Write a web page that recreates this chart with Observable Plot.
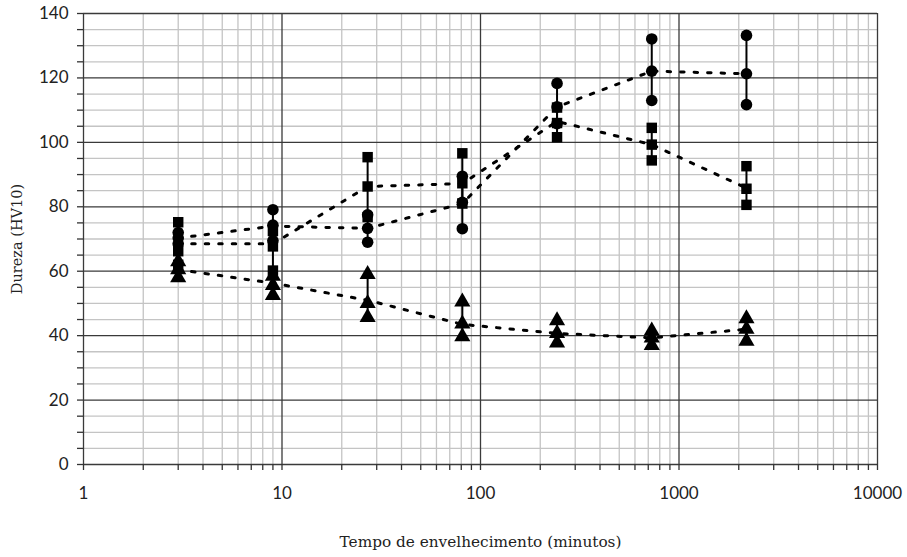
<!DOCTYPE html>
<html>
<head>
<meta charset="utf-8">
<script src="https://cdn.jsdelivr.net/npm/d3@7"></script>
<script src="https://cdn.jsdelivr.net/npm/@observablehq/plot@0.6"></script>
<style>
  html, body { margin: 0; padding: 0; background: #fff; }
</style>
</head>
<body>
<div id="chart"></div>
<script>
// Aging time (minutes)
const times = [3, 9, 27, 81, 243, 729, 2187];

// Series drawn with circles
const circleHi   = [72.0, 79.1, 77.5, 89.5, 118.3, 132.1, 133.2];
const circleMid  = [70.3, 74.3, 73.3, 81.4, 111.0, 122.1, 121.3];
const circleLo   = [68.5, 69.5, 69.0, 73.2, 105.8, 113.0, 111.7];
const circleMean = [70.3, 74.0, 73.3, 81.0, 111.0, 122.1, 121.3];

// Series drawn with squares
const squareHi   = [75.2, 72.5, 95.4, 96.6, 110.8, 104.5, 92.6];
const squareMid  = [66.2, 67.7, 86.3, 87.3, 106.0, 99.3, 85.6];
const squareLo   = [62.0, 60.2, 76.8, 81.0, 101.6, 94.4, 80.6];
const squareMean = [68.5, 68.5, 86.3, 87.2, 106.5, 99.3, 85.8];

// Series drawn with triangles
const triangleHi   = [63.0, 58.5, 59.0, 50.5, 44.7, 41.5, 45.3];
const triangleMid  = [60.5, 55.6, 50.0, 43.7, 40.7, 39.3, 42.0];
const triangleLo   = [58.0, 52.5, 45.7, 39.7, 37.8, 37.0, 38.3];
const triangleMean = [60.5, 56.3, 51.0, 43.5, 40.7, 39.3, 42.0];

// Axis ticks
const decades = [1, 10, 100, 1000, 10000];
const xTickLabels = ["1", "10", "100", "1000", "10000"];
const yLabels = [0, 20, 40, 60, 80, 100, 120, 140];

const xAll = [];
for (let p = 0; p < 4; p++) for (let k = 1; k < 10; k++) xAll.push(k * Math.pow(10, p));
xAll.push(10000);
const xMinor = xAll.filter(v => !decades.includes(v));
const yAll = d3.range(0, 141, 5);
const yMinor = yAll.filter(v => v % 20 !== 0);

const defs = [
  {name: "square", hi: squareHi, mid: squareMid, lo: squareLo, mean: squareMean},
  {name: "circle", hi: circleHi, mid: circleMid, lo: circleLo, mean: circleMean},
  {name: "triangle", hi: triangleHi, mid: triangleMid, lo: triangleLo, mean: triangleMean}
];
const rows = defs.flatMap(s => times.map((t, i) => ({
  series: s.name, t, hi: s.hi[i], mid: s.mid[i], lo: s.lo[i], mean: s.mean[i]
})));

const dotMarks = [];
for (const s of defs) {
  const data = rows.filter(r => r.series === s.name);
  const r = s.name === "triangle" ? 6 : s.name === "square" ? 5.9 : 5.8;
  for (const key of ["lo", "hi", "mid"]) {
    dotMarks.push(Plot.dot(data, {x: "t", y: key, symbol: s.name, fill: "#000", stroke: "none", r}));
  }
}

const chart = Plot.plot({
  width: 907,
  height: 557,
  marginLeft: 83,
  marginRight: 30,
  marginTop: 13,
  marginBottom: 93,
  style: {fontFamily: "Lato", fontSize: "17px", color: "#222", background: "#fff"},
  x: {type: "log", domain: [1, 10000]},
  y: {domain: [0, 140]},
  marks: [
    Plot.ruleX(xMinor, {stroke: "#c4c4c4", strokeWidth: 1.3}),
    Plot.ruleY(yMinor, {stroke: "#c4c4c4", strokeWidth: 1.3}),
    Plot.ruleX(decades, {stroke: "#3a3a3a", strokeWidth: 1.3}),
    Plot.ruleY(yLabels, {stroke: "#3a3a3a", strokeWidth: 1.3}),
    Plot.axisX({
      ticks: xAll,
      tickFormat: d => { const i = decades.findIndex(v => Math.abs(v - d) < 1e-9); return i >= 0 ? xTickLabels[i] : ""; },
      tickSize: 6, tickPadding: 16, label: null, stroke: "#333", strokeWidth: 1.3
    }),
    Plot.axisY({
      ticks: yAll,
      tickFormat: d => d % 20 === 0 ? String(d) : "",
      tickSize: 6, tickPadding: 9, label: null, stroke: "#333", strokeWidth: 1.3
    }),
    Plot.line(rows, {x: "t", y: "mean", z: "series", stroke: "#000", strokeWidth: 3, strokeDasharray: "3.5,10"}),
    Plot.ruleX(rows, {x: "t", y1: "lo", y2: "hi", stroke: "#000", strokeWidth: 2}),
    ...dotMarks,
    Plot.text(["Tempo de envelhecimento (minutos)"], {frameAnchor: "bottom", textAnchor: "middle", dy: 82, fontFamily: "DejaVu Serif", fontSize: 15.3, fill: "#222"}),
    Plot.text(["Dureza (HV10)"], {frameAnchor: "left", textAnchor: "middle", dx: -66, rotate: -90, fontFamily: "DejaVu Serif", fontSize: 14.5, fill: "#222"})
  ]
});
document.getElementById("chart").appendChild(chart);
</script>
</body>
</html>
